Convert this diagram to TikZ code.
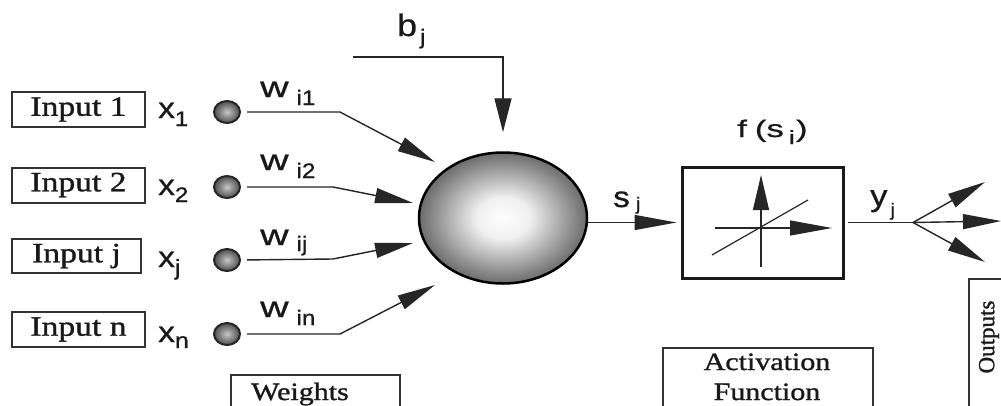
\documentclass[tikz,border=0pt]{standalone}
\usepackage{fontspec}
\setmainfont{Liberation Serif}[FakeBold=1.2]
\newfontfamily\serifS[FakeStretch=1.2,FakeBold=1.2]{Liberation Serif}
\newfontfamily\sansS[FakeStretch=1.15,FakeBold=0.8]{Liberation Sans}
\newfontfamily\sansF[FakeStretch=1.45,FakeBold=0.8]{Liberation Sans}
\usetikzlibrary{shapes.geometric,arrows.meta}
\newcommand\fsz[1]{\fontsize{#1}{#1}\selectfont}
\newcommand\mylab[5]{{\sansS\fsz{#1}#2\raisebox{-#5pt}{\fsz{#3}#4}}}
\newcommand\wlet{\scalebox{1.18}[1]{w}\hspace{8pt}}
\pgfdeclareradialshading{neuronshade}{\pgfpoint{0bp}{0bp}}{color(0bp)=(white); color(8bp)=(white!94!black); color(25bp)=(black!58); color(50bp)=(black!58)}
\pgfdeclareradialshading{ballshade}{\pgfpoint{0bp}{0bp}}{color(0bp)=(black!22); color(25bp)=(black!70); color(50bp)=(black!70)}
\begin{document}
\begin{tikzpicture}[x=1pt,y=-1pt,
  line/.style={draw=black!85, line width=1.4pt},
  arr/.style={line, -{Triangle[length=38pt,width=15pt]}},
  inbox/.style={draw=black!80, line width=2pt, minimum height=35pt, inner sep=0pt, font=\serifS\fsz{28}, text=black!90},
  ball/.style={ellipse, draw=black!85, line width=2pt, minimum width=26pt, minimum height=22pt, inner sep=0pt, shading=ballshade},
  lab/.style={anchor=base west, inner sep=0pt, text=black!90},
  capbox/.style={draw=black!80, line width=2pt, anchor=north west, inner sep=0pt},
  captext/.style={anchor=base, inner sep=0pt, text=black!90},
]
\clip (0,0) rectangle (1001,405);
\fill[white] (0,0) rectangle (1001,405);

% input boxes
\node[inbox, minimum width=133pt] (in1) at (78.5,109.5) {Input 1};
\node[inbox, minimum width=133pt] (in2) at (78.5,185) {Input 2};
\node[inbox, minimum width=129pt, minimum height=34pt] (inj) at (76.5,256) {Input j};
\node[inbox, minimum width=133pt] (inn) at (78.5,329.5) {Input n};

% x labels
\node[lab] (x1) at (158,118) {\mylab{29}{x}{21}{1}{8}};
\node[lab] (x2) at (158,195) {\mylab{29}{x}{21}{2}{7}};
\node[lab] (xj) at (158,267) {\mylab{29}{x}{22}{j}{8}};
\node[lab] (xn) at (158,342) {\mylab{29}{x}{22}{n}{6}};

% small balls
\node[ball] (c1) at (227,112) {};
\node[ball] (c2) at (227,187) {};
\node[ball] (cj) at (227,260) {};
\node[ball] (cn) at (227,334) {};

% weight labels
\node[lab] (w1) at (260,97) {\mylab{29}{\wlet}{21}{i1}{8}};
\node[lab] (w2) at (260,170) {\mylab{29}{\wlet}{21}{i2}{8}};
\node[lab] (wj) at (260,245) {\mylab{29}{\wlet}{21}{ij}{6}};
\node[lab] (wn) at (260,317) {\mylab{29}{\wlet}{21}{in}{8}};

% neuron
\node[ellipse, draw=black, line width=2.5pt, minimum width=168pt, minimum height=131pt, inner sep=0pt, shading=neuronshade] (neuron) at (503,218) {};

% weighted connectors
\coordinate (k1) at (340,112); \coordinate (t1) at (435,162);
\coordinate (k2) at (333,187); \coordinate (t2) at (413,203);
\coordinate (kj) at (333,259); \coordinate (tj) at (413,243);
\coordinate (kn) at (340,334); \coordinate (tn) at (435,285);
\draw[arr, shorten <=6pt] (c1.east) -- (k1) -- (t1);
\draw[arr, shorten <=6pt] (c2.east) -- (k2) -- (t2);
\draw[arr, shorten <=6pt] (cj.east) -- (kj) -- (tj);
\draw[arr, shorten <=6pt] (cn.east) -- (kn) -- (tn);

% bias
\node[lab] (bj) at (397,36) {\mylab{31}{b}{21}{\hspace{3pt}j}{8}};
\coordinate (bs) at (353,57);
\draw[arr, -{Triangle[length=34pt,width=17pt]}] (bs) -| ([yshift=19pt]neuron.north);

% activation box
\node[draw=black!90, line width=3pt, minimum width=161pt, minimum height=111pt, inner sep=0pt] (act) at (762.5,222.5) {};
\node[lab] (fs) at (737,137) {\sansF\fsz{24}f\hspace{8pt}(s\hspace{5pt}\raisebox{-7pt}{\fsz{19}i}\hspace{1pt})};
\node[lab] (sj) at (613,207) {\mylab{29}{s}{18}{\hspace{6pt}j}{3}};
\draw[arr, -{Triangle[length=42pt,width=15pt]}] (neuron.east |- act.west) -- ([xshift=-4pt]act.west);

% activation symbol
\coordinate (va) at (761,267); \coordinate (vb) at (761,175);
\coordinate (ha) at (715,228); \coordinate (hb) at (832,228);
\coordinate (da) at (712,255); \coordinate (db) at (808,200);
\draw[arr, line width=1.2pt, -{Triangle[length=35pt,width=16pt]}] (va) -- (vb);
\draw[arr, line width=1.2pt, -{Triangle[length=42pt,width=15pt]}] (ha) -- (hb);
\draw[line, line width=1.2pt] (da) -- (db);

% output
\node[lab] (yj) at (870,206) {\mylab{30}{y}{18}{\hspace{3pt}j}{10}};
\coordinate (split) at (act.east -| 913,0);
\coordinate (o1) at (985,182);
\coordinate (o2) at (1001,221);
\coordinate (o3) at (985,262);
\draw[line, shorten <=3pt] (act.east) -- (split);
\draw[arr] (split) -- (o1);
\draw[arr] (split) -- (o2);
\draw[arr] (split) -- (o3);

% caption boxes
\node[capbox, minimum width=169pt, minimum height=60pt] (wbox) at (230,374) {};
\node[captext, font=\serifS\fsz{25}] (wtext) at (300,400) {Weights};
\node[capbox, minimum width=210pt, minimum height=80pt] (abox) at (662,347) {};
\node[captext, font=\serifS\fsz{25}] (atext1) at (767,370) {Activation};
\node[captext, font=\serifS\fsz{25}] (atext2) at (767,400) {Function};
\node[capbox, minimum width=60pt, minimum height=160pt] (obox) at (968,278) {};
\node[rotate=90, inner sep=0pt, font=\fsz{23}, text=black!90] (otext) at (989,337) {Outputs};
\end{tikzpicture}
\end{document}
